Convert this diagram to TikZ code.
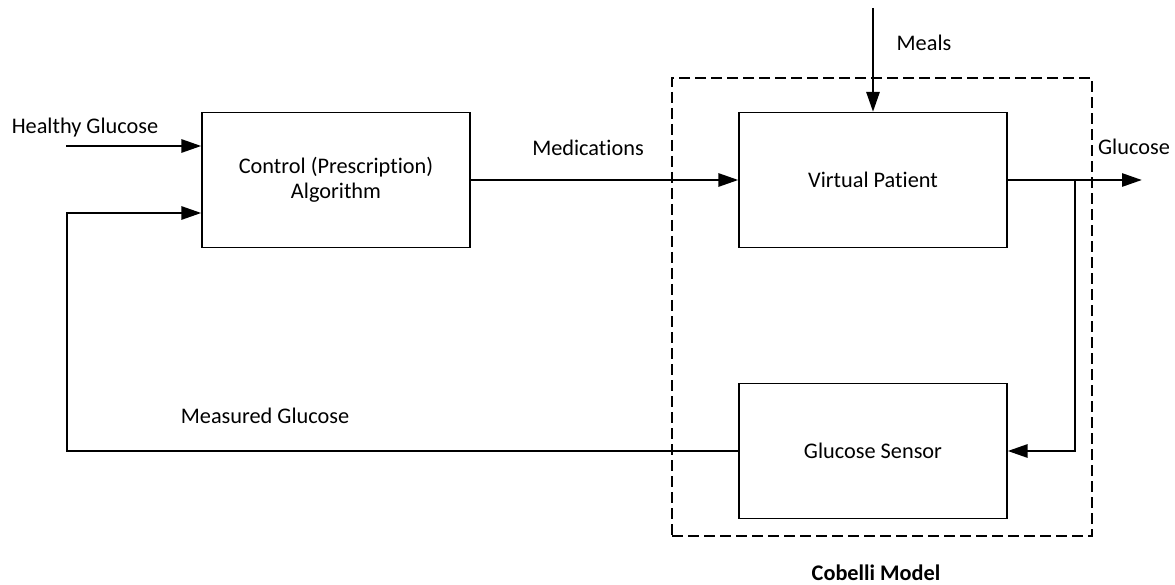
\documentclass[tikz,border=0pt]{standalone}
\usepackage{fontspec}
\setmainfont{Carlito}[Ligatures=NoCommon]
\usetikzlibrary{arrows.meta}
\begin{document}
\fontsize{22.3}{25}\selectfont
\begin{tikzpicture}[x=1pt,y=-1pt,block/.style={draw,line width=1.2pt,minimum width=268pt,minimum height=135pt,inner sep=0,align=center},link/.style={line width=2.8pt,-{Triangle[length=20pt,width=13pt]}},lbl/.style={inner sep=0}]
\useasboundingbox(0,0)rectangle(1175,585);
\node[block](ctrl)at(336,180){Control (Prescription)\\Algorithm};
\node[block](vp)at(873,180){Virtual Patient};
\node[block](gs)at(873,451){Glucose Sensor};
\node[draw,line width=1.2pt,dash pattern=on 11pt off 5pt,minimum width=420pt,minimum height=458pt,inner sep=0](cob)at(882,307){};
\coordinate(hin)at(66,146);\coordinate(meal)at(873,8);\coordinate(gout)at(1142,180);
\coordinate(tap)at(1075,180);\coordinate(fb)at(67,213);
\draw[link](hin)--(hin-|ctrl.west);
\draw[link](ctrl)--(vp);
\draw[link](meal)--(vp);
\draw[link](vp)--(gout);
\draw[link](tap)|-(gs);
\draw[link](gs.west)-|(fb)--(fb-|ctrl.west);
\node[lbl](hg)at(85,128){Healthy Glucose};\node[lbl](med)at(588,148){Medications};
\node[lbl](ml)at(924,43){Meals};\node[lbl](gl)at(1134,147){Glucose};
\node[lbl](mg)at(265,416){Measured Glucose};\node[lbl,font=\bfseries](cm)at(876,573){Cobelli Model};
\end{tikzpicture}
\end{document}
